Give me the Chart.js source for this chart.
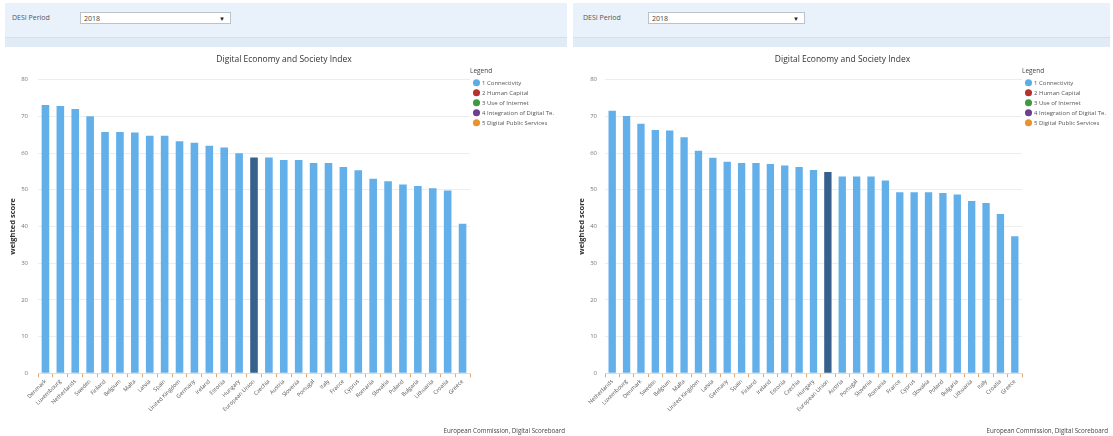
<!DOCTYPE html>
<html>
<head>
<meta charset="utf-8">
<script src="https://cdn.jsdelivr.net/npm/chart.js@4/dist/chart.umd.min.js"></script>
<style>
  html, body { margin: 0; padding: 0; background: #fff; width: 1113px; height: 436px; overflow: hidden; font-family: "Open Sans", "Noto Sans", sans-serif; }
  .panel { position: absolute; top: 0; height: 436px; }
  .filter { position: absolute; left: 0; right: 0; top: 3px; height: 34px; background: #e9f2fb; }
  .strip { position: absolute; left: 0; right: 0; top: 37px; height: 9px; background: #e1ebf5; border-top: 1px solid #d3e0ec; }
  .flabel { position: absolute; top: 13px; font-size: 7px; color: #555; }
  .select { position: absolute; top: 12px; height: 12px; background: #fff; border: 1px solid #b9c3cc; font-size: 7px; color: #444; line-height: 12px; padding-left: 3px; box-sizing: border-box; }
  .select span { position: absolute; right: 5px; top: 0; font-size: 6px; color: #222; }
  canvas { position: absolute; top: 44px; }
  .source { position: absolute; top: 426px; font-size: 6.2px; color: #444; white-space: nowrap; }
</style>
</head>
<body>
<div class="panel" id="pLeft" style="left:5px;width:562px;">
  <div class="filter"></div><div class="strip"></div>
  <div class="flabel" style="left:7px;">DESI Period</div>
  <div class="select" style="left:75px;width:151px;">2018<span>&#9660;</span></div>
  <canvas id="chartLeft" width="562" height="390" style="left:0;"></canvas>
  <div class="source" style="right:2px;">European Commission, Digital Scoreboard</div>
</div>
<div class="panel" id="pRight" style="left:573px;width:537px;">
  <div class="filter"></div><div class="strip"></div>
  <div class="flabel" style="left:10px;">DESI Period</div>
  <div class="select" style="left:75px;width:157px;">2018<span>&#9660;</span></div>
  <canvas id="chartRight" width="540" height="390" style="left:0;"></canvas>
  <div class="source" style="right:2px;">European Commission, Digital Scoreboard</div>
</div>
<script>
// Countries ranked by weighted score, first chart
const leftLabels = ['Denmark','Luxembourg','Netherlands','Sweden','Finland','Belgium','Malta','Latvia','Spain','United Kingdom','Germany','Ireland','Estonia','Hungary','European Union','Czechia','Austria','Slovenia','Portugal','Italy','France','Cyprus','Romania','Slovakia','Poland','Bulgaria','Lithuania','Croatia','Greece'];
const leftValues = [73.1,72.8,72.0,70.0,65.7,65.7,65.6,64.7,64.7,63.2,62.8,62.0,61.5,59.9,58.8,58.8,58.1,58.1,57.3,57.3,56.2,55.3,53.0,52.3,51.4,51.0,50.4,49.8,40.7];

// Countries ranked by weighted score, second chart
const rightLabels = ['Netherlands','Luxembourg','Denmark','Sweden','Belgium','Malta','United Kingdom','Latvia','Germany','Spain','Finland','Ireland','Estonia','Czechia','Hungary','European Union','Austria','Portugal','Slovenia','Romania','France','Cyprus','Slovakia','Poland','Bulgaria','Lithuania','Italy','Croatia','Greece'];
const rightValues = [71.5,70.1,68.0,66.3,66.1,64.3,60.6,58.7,57.6,57.3,57.3,57.0,56.6,56.2,55.4,54.8,53.6,53.6,53.6,52.5,49.3,49.3,49.3,49.1,48.7,46.9,46.4,43.4,37.3];

// DESI dimensions shown in the legend
const dimensionNames = ['1 Connectivity','2 Human Capital','3 Use of Internet','4 Integration of Digital Te.','5 Digital Public Services'];
const dimensionColors = ['#5dade2','#b8312f','#3e9a3e','#6c3f8f','#e8932c'];

const yTicks = [0,10,20,30,40,50,60,70,80];

const BAR = '#63afea';
const BAR_EU = '#35618c';
const FONT = '"Open Sans", "Noto Sans", sans-serif';

function makeChart(id, labels, values, geo) {
  return new Chart(document.getElementById(id), {
    type: 'bar',
    data: {
      labels: labels,
      datasets: [{
        label: dimensionNames[0],
        data: values,
        backgroundColor: labels.map(l => l === 'European Union' ? BAR_EU : BAR),
        barPercentage: 0.6,
        categoryPercentage: 0.85
      }]
    },
    options: {
      responsive: false,
      devicePixelRatio: 1,
      animation: false,
      layout: { padding: { left: geo.padLeft, right: geo.padRight, top: 0, bottom: 20 } },
      plugins: {
        title: {
          display: true,
          text: 'Digital Economy and Society Index',
          font: { family: FONT, size: 8.5, weight: 'normal' },
          color: '#333',
          padding: { top: 10, bottom: 15.4 }
        },
        legend: {
          position: 'right',
          align: 'start',
          maxWidth: geo.legendWidth,
          title: { display: true, text: 'Legend', position: 'start', color: '#444', font: { family: FONT, size: 6.5 }, padding: { top: 24, bottom: 0 } },
          labels: {
            color: '#555',
            font: { family: FONT, size: 6 },
            usePointStyle: true,
            boxWidth: 5,
            boxHeight: 5,
            padding: 4,
            generateLabels: () => dimensionNames.map((name, i) => ({
              text: name,
              fillStyle: dimensionColors[i],
              strokeStyle: dimensionColors[i],
              lineWidth: 0,
              pointStyle: 'circle',
              hidden: false,
              fontColor: '#555'
            }))
          }
        },
        tooltip: { enabled: false }
      },
      scales: {
        x: {
          afterFit: scale => { scale.paddingLeft = 0; },
          grid: { display: true, drawOnChartArea: false, tickLength: 4, color: '#dba877' },
          border: { display: true, color: '#dcdcdc' },
          ticks: { autoSkip: false, minRotation: 45, maxRotation: 45, color: '#555', font: { family: FONT, size: 5.6 }, padding: 1 }
        },
        y: {
          min: 0,
          max: 80,
          afterBuildTicks: axis => { axis.ticks = yTicks.map(v => ({ value: v })); },
          afterFit: axis => { axis.width = geo.yWidth; },
          ticks: { color: '#777', font: { family: FONT, size: 6 }, padding: geo.tickPad },
          grid: { color: '#ededed', drawTicks: false },
          border: { display: false },
          title: { display: true, text: 'weighted score', color: '#333', font: { family: FONT, size: 7.5, weight: 'bold' }, padding: 1 }
        }
      }
    }
  });
}

makeChart('chartLeft', leftLabels, leftValues, { padLeft: 2, padRight: 6, yWidth: 31, tickPad: 10, legendWidth: 91 });
makeChart('chartRight', rightLabels, rightValues, { padLeft: 3, padRight: 4, yWidth: 29, tickPad: 8, legendWidth: 87 });
</script>
</body>
</html>
